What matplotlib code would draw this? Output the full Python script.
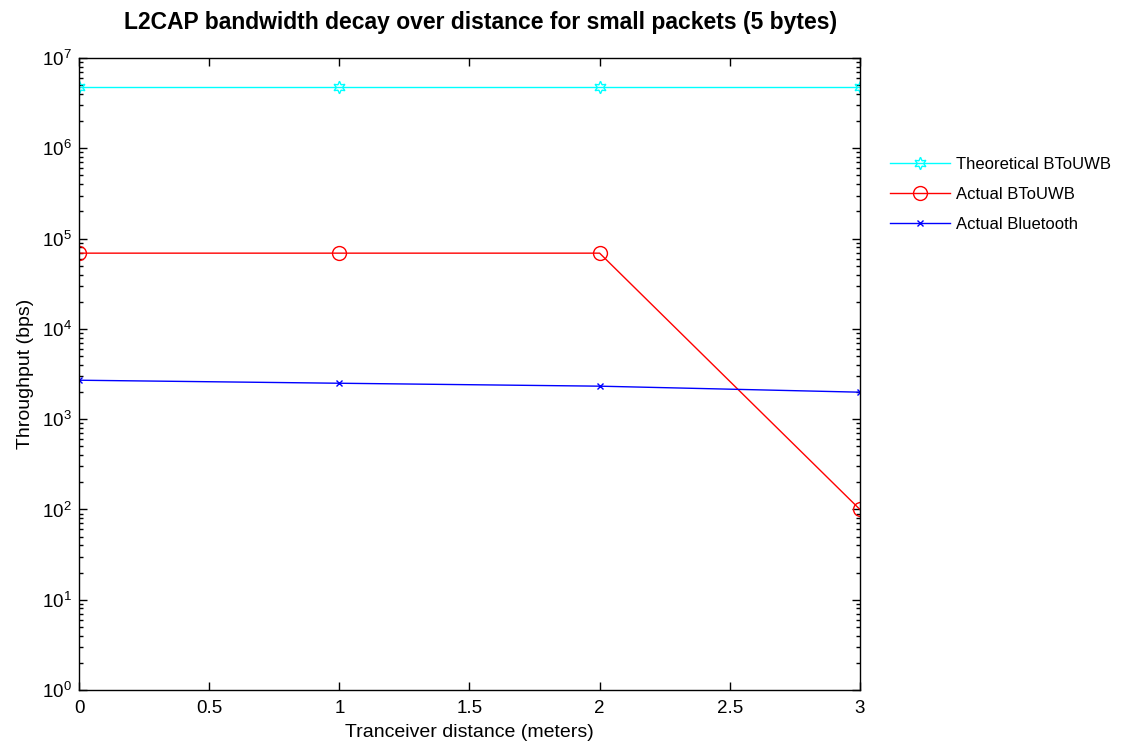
import matplotlib
matplotlib.use("Agg")
import matplotlib.pyplot as plt
from matplotlib.ticker import FixedLocator, NullFormatter, LogFormatterMathtext

plt.rcParams["font.family"] = ["Liberation Sans", "DejaVu Sans"]
plt.rcParams["mathtext.default"] = "regular"

distance = [0, 1, 2, 3]
theoretical_btouwb = [4.8e6, 4.8e6, 4.8e6, 4.8e6]
actual_btouwb = [6.9e4, 6.9e4, 6.9e4, 100]
actual_bluetooth = [2700, 2500, 2320, 1990]
x_ticks = [0, 0.5, 1, 1.5, 2, 2.5, 3]
x_tick_labels = ["0", "0.5", "1", "1.5", "2", "2.5", "3"]
y_decades = [0, 1, 2, 3, 4, 5, 6, 7]

fig = plt.figure(figsize=(11.42, 7.45), dpi=100)
ax = fig.add_axes([0.0692, 0.0738, 0.6838, 0.8483])

ax.semilogy(distance, theoretical_btouwb, color="#00ffff", lw=1.0,
            marker=(6, 1, 0), ms=9, mfc="none", mec="#00ffff", mew=1.0,
            label="Theoretical BToUWB")
ax.semilogy(distance, actual_btouwb, color="#ff0000", lw=1.0,
            marker="o", ms=10, mfc="none", mec="#ff0000", mew=1.0,
            label="Actual BToUWB")
ax.semilogy(distance, actual_bluetooth, color="#0000ff", lw=1.0,
            marker="x", ms=5, mec="#0000ff", mew=1.0,
            label="Actual Bluetooth")

ax.set_xlim(0, 3)
ax.set_ylim(1, 1e7)
ax.xaxis.set_major_locator(FixedLocator(x_ticks))
ax.set_xticklabels(x_tick_labels)

# decade ticks with 2..9 minor ticks in between, all inside the axis range
major = [10.0 ** d for d in y_decades]
minor = [m * 10.0 ** d for d in y_decades[:-1] for m in range(2, 10)]
ax.yaxis.set_major_locator(FixedLocator(major))
ax.yaxis.set_major_formatter(LogFormatterMathtext())
ax.yaxis.set_minor_locator(FixedLocator(minor))
ax.yaxis.set_minor_formatter(NullFormatter())

ax.tick_params(which="both", direction="in", top=True, right=True,
               labelsize=13.5, colors="black")
ax.tick_params(which="major", length=6, width=1)
ax.tick_params(which="minor", length=3, width=1)
ax.tick_params(axis="x", pad=7)
ax.tick_params(axis="y", pad=5)
for s in ax.spines.values():
    s.set_linewidth(1.0)

ax.set_xlabel("Tranceiver distance (meters)", fontsize=14, labelpad=5)
ax.set_ylabel("Throughput (bps)", fontsize=14, labelpad=6)
ax.set_title("L2CAP bandwidth decay over distance for small packets (5 bytes)",
             fontsize=16.5, fontweight="bold", pad=21, x=0.514)

leg = ax.legend(loc="upper left", bbox_to_anchor=(1.038, 0.843), frameon=False,
                fontsize=12, handlelength=3.6, labelspacing=0.88,
                handletextpad=0.4, borderaxespad=0, borderpad=0)

fig.savefig("out.png", dpi=100, facecolor="white")
